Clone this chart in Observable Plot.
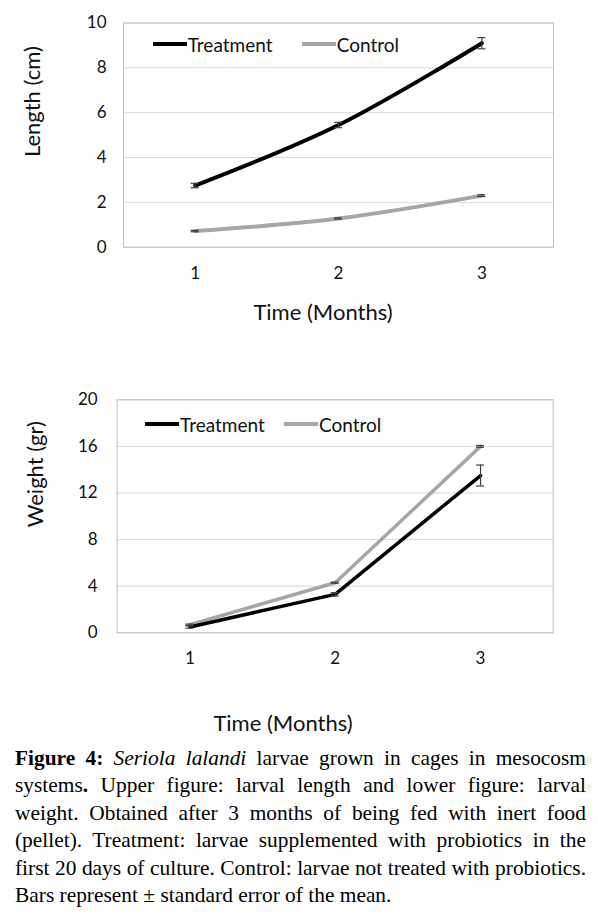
<!DOCTYPE html>
<html>
<head>
<meta charset="utf-8">
<script src="https://cdn.jsdelivr.net/npm/d3@7"></script>
<script src="https://cdn.jsdelivr.net/npm/@observablehq/plot@0.6"></script>
<style>
  html, body { margin: 0; padding: 0; background: #fff; }
  body { width: 598px; }
  .panel { position: relative; width: 598px; }
  .legend { position: absolute; display: flex; align-items: center; height: 24px;
            font-family: Lato, sans-serif; font-size: 19px; color: #111; white-space: nowrap; }
  .legend .sw { display: inline-block; width: 34px; height: 4px; margin-right: 1px; }
  #caption { font-family: "Liberation Serif", "Times New Roman", serif; font-size: 21.4px;
             line-height: 27.4px; color: #000; padding: 5px 0 0 15px; width: 571px; }
  #caption .j { text-align: justify; text-align-last: justify; }
</style>
</head>
<body>
<div id="top" class="panel"></div>
<div id="bottom" class="panel"></div>
<div id="caption"></div>
<script>
// ---- data ----
const months = [1, 2, 3];
const lengthTicks = [0, 2, 4, 6, 8, 10];
const weightTicks = [0, 4, 8, 12, 16, 20];
const seriesNames = ["Treatment", "Control"];
const seriesColors = ["#000000", "#a6a6a6"];

const lengthTreatment = [2.75, 5.45, 9.1];
const lengthTreatmentSE = [0.1, 0.12, 0.25];
const lengthControl = [0.72, 1.28, 2.3];
const lengthControlSE = [0.03, 0.03, 0.04];

const weightTreatment = [0.5, 3.3, 13.5];
const weightTreatmentSE = [0.1, 0.15, 0.9];
const weightControl = [0.7, 4.3, 16.0];
const weightControlSE = [0.05, 0.05, 0.08];

const captionLines = [
  '<b>Figure 4:</b> <i>Seriola lalandi</i> larvae grown in cages in mesocosm',
  'systems<b>.</b> Upper figure: larval length and lower figure: larval',
  'weight. Obtained after 3 months of being fed with inert food',
  '(pellet). Treatment: larvae supplemented with probiotics in the',
  'first 20 days of culture. Control: larvae not treated with probiotics.',
  'Bars represent \u00b1 standard error of the mean.'
];

function rows(values, se) {
  return months.map((m, i) => ({month: m, value: values[i], lo: values[i] - se[i], hi: values[i] + se[i]}));
}

function errorMarks(data) {
  return [
    Plot.ruleX(data, {x: "month", y1: "lo", y2: "hi", stroke: "#404040", strokeWidth: 1.2}),
    Plot.ruleY(data, {x1: "month", x2: "month", y: "lo", stroke: "#404040", strokeWidth: 1.2, insetLeft: -4, insetRight: -4}),
    Plot.ruleY(data, {x1: "month", x2: "month", y: "hi", stroke: "#404040", strokeWidth: 1.2, insetLeft: -4, insetRight: -4})
  ];
}

function chart(opts) {
  const t = rows(opts.treat, opts.treatSE);
  const c = rows(opts.ctrl, opts.ctrlSE);
  return Plot.plot({
    width: 598,
    height: opts.height,
    marginLeft: opts.ml, marginRight: opts.mr, marginTop: opts.mt, marginBottom: opts.mb,
    x: {domain: [0.5, 3.5]},
    y: {domain: [opts.ticks[0], opts.ticks[opts.ticks.length - 1]]},
    style: {fontFamily: "Lato, sans-serif", fontSize: "17px", color: "#111", background: "#fff", overflow: "visible"},
    marks: [
      Plot.gridY(opts.ticks, {stroke: "#d9d9d9", strokeOpacity: 1}),
      Plot.frame({stroke: "#bfbfbf"}),
      Plot.axisX(months, {tickSize: 0, tickPadding: opts.xpad, label: null, tickFormat: d => String(d), fontSize: 17}),
      Plot.axisY(opts.ticks, {tickSize: 0, tickPadding: opts.ypad, label: null, tickFormat: d => String(d), fontSize: 17}),
      Plot.line(c, {x: "month", y: "value", stroke: seriesColors[1], strokeWidth: opts.sw, curve: opts.curve}),
      Plot.line(t, {x: "month", y: "value", stroke: seriesColors[0], strokeWidth: opts.sw, curve: opts.curve}),
      ...errorMarks(c),
      ...errorMarks(t),
      Plot.text([opts.xlabel], {text: d => d, frameAnchor: "bottom", lineAnchor: "middle", dx: opts.xdx, dy: opts.xdy, fontSize: 22, fill: "#111"}),
      Plot.text([opts.ylabel], {text: d => d, frameAnchor: "left", lineAnchor: "middle", rotate: -90, dx: opts.ydx, dy: opts.ydy, fontSize: 22, fill: "#111"})
    ]
  });
}

function addLegend(container, items) {
  items.forEach((it, i) => {
    const div = document.createElement("div");
    div.className = "legend";
    div.style.left = it.left + "px";
    div.style.top = (it.top - 12) + "px";
    div.innerHTML = `<span class="sw" style="background:${seriesColors[i]}"></span><span>${seriesNames[i]}</span>`;
    container.appendChild(div);
  });
}

const topEl = document.getElementById("top");
topEl.appendChild(chart({
  height: 360, ml: 123, mr: 45, mt: 22.5, mb: 113.3,
  ticks: lengthTicks, treat: lengthTreatment, treatSE: lengthTreatmentSE,
  ctrl: lengthControl, ctrlSE: lengthControlSE, sw: 4, curve: "catmull-rom",
  xpad: 20, ypad: 17,
  xlabel: "Time (Months)", ylabel: "Length (cm)",
  xdx: -15.5, xdy: 66, ydx: -90.5, ydy: 22
}));
addLegend(topEl, [{left: 152.7, top: 44}, {left: 301.7, top: 44}]);

const botEl = document.getElementById("bottom");
botEl.appendChild(chart({
  height: 380, ml: 116.7, mr: 45.3, mt: 39.3, mb: 107.7,
  ticks: weightTicks, treat: weightTreatment, treatSE: weightTreatmentSE,
  ctrl: weightControl, ctrlSE: weightControlSE, sw: 3.5, curve: "linear",
  xpad: 19, ypad: 19.5,
  xlabel: "Time (Months)", ylabel: "Weight (gr)",
  xdx: -52.2, xdy: 90.7, ydx: -81.7, ydy: 11
}));
addLegend(botEl, [{left: 145, top: 64}, {left: 284, top: 64}]);

const cap = document.getElementById("caption");
captionLines.forEach((l, i) => {
  const d = document.createElement("div");
  if (i < captionLines.length - 1) d.className = "j";
  d.innerHTML = l;
  cap.appendChild(d);
});
</script>
</body>
</html>
